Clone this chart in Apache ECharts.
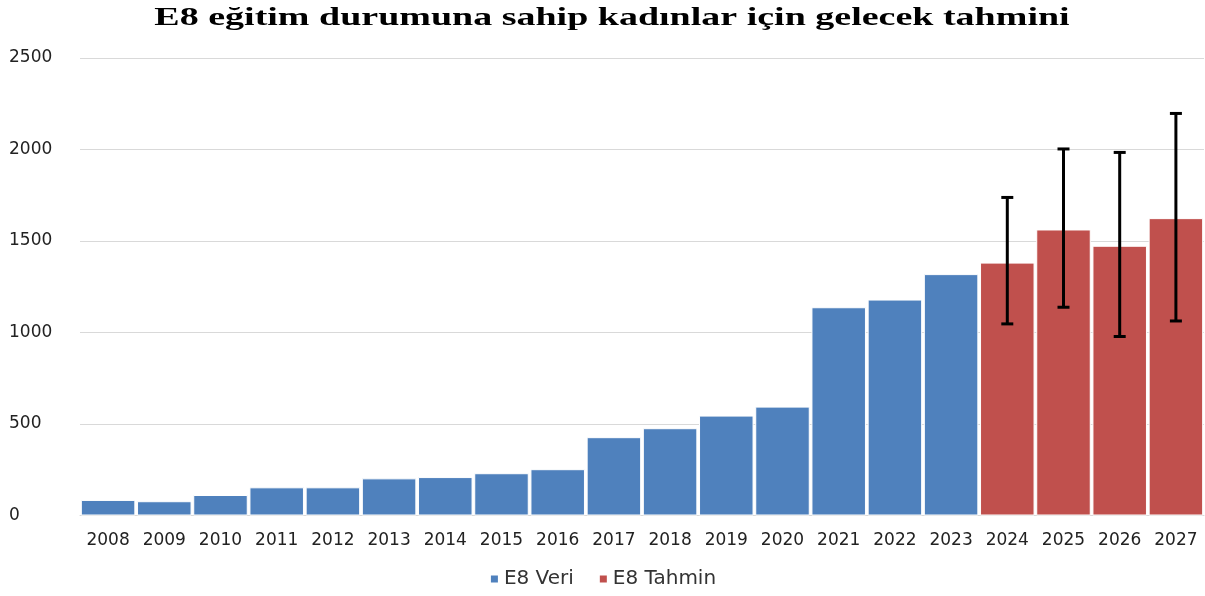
<!DOCTYPE html>
<html>
<head>
<meta charset="utf-8">
<script src="https://cdn.jsdelivr.net/npm/echarts@6/dist/echarts.min.js"></script>
<style>
  html, body { margin: 0; padding: 0; background: #fff; }
  #main { width: 1205px; height: 596px; }
</style>
</head>
<body>
<div id="main"></div>
<script>
var years = ['2008','2009','2010','2011','2012','2013','2014','2015','2016','2017',
             '2018','2019','2020','2021','2022','2023','2024','2025','2026','2027'];
var veri = [85, 78, 112, 154, 154, 203, 210, 231, 253, 428,
            477, 546, 595, 1138, 1180, 1319, '-', '-', '-', '-'];
var tahmin = ['-','-','-','-','-','-','-','-','-','-',
              '-','-','-','-','-','-', 1382, 1563, 1474, 1625];
var errLow = [1047, 1138, 978, 1063];
var errHigh = [1738, 2003, 1984, 2197];
var errYears = ['2024','2025','2026','2027'];

var errData = [];
for (var i = 0; i < errYears.length; i++) {
    errData.push([errYears[i], errLow[i], errHigh[i]]);
}

var myChart = echarts.init(document.getElementById('main'));

var option = {
    animation: false,
    // title is stretched horizontally like in the original picture
    graphic: [{
        type: 'text',
        x: 612,
        y: 6,
        scaleX: 1.52,
        style: {
            text: 'E8 eğitim durumuna sahip kadınlar için gelecek tahmini',
            font: 'bold 25px "Liberation Serif"',
            fill: '#000',
            align: 'center',
            verticalAlign: 'top'
        }
    }],
    legend: {
        bottom: 2,
        left: 'center',
        itemWidth: 9,
        itemHeight: 9,
        itemGap: 24,
        icon: 'rect',
        data: ['E8 Veri', 'E8 Tahmin'],
        textStyle: { fontFamily: 'DejaVu Sans', fontSize: 20, color: '#333' }
    },
    grid: { left: 80, right: 1, top: 58, bottom: 80.5 },
    xAxis: {
        type: 'category',
        data: years,
        axisTick: { show: false },
        axisLine: { lineStyle: { color: '#d9d9d9' } },
        axisLabel: { interval: 0, fontFamily: 'DejaVu Sans', fontSize: 17, color: '#222', margin: 17 }
    },
    yAxis: {
        type: 'value',
        min: 0,
        max: 2500,
        interval: 500,
        axisLabel: {
            fontFamily: 'DejaVu Sans', fontSize: 17, color: '#222', align: 'left', margin: 71,
            formatter: function (v) { return String(v); }
        },
        splitLine: { lineStyle: { color: '#d9d9d9', width: 1 } }
    },
    series: [
        {
            name: 'E8 Veri',
            type: 'bar',
            data: veri,
            barGap: '-100%',
            barCategoryGap: '3%',
            itemStyle: { color: '#4f81bd', borderColor: '#fff', borderWidth: 1 }
        },
        {
            name: 'E8 Tahmin',
            type: 'bar',
            data: tahmin,
            barCategoryGap: '3%',
            itemStyle: { color: '#c0504d', borderColor: '#fff', borderWidth: 1 }
        },
        {
            name: 'hata',
            type: 'custom',
            data: errData,
            z: 10,
            renderItem: function (params, api) {
                var lo = api.coord([api.value(0), api.value(1)]);
                var hi = api.coord([api.value(0), api.value(2)]);
                var w = 6;
                var st = { stroke: '#000', lineWidth: 3 };
                return {
                    type: 'group',
                    children: [
                        { type: 'line', shape: { x1: hi[0], y1: hi[1], x2: lo[0], y2: lo[1] }, style: st },
                        { type: 'line', shape: { x1: hi[0] - w, y1: hi[1], x2: hi[0] + w, y2: hi[1] }, style: st },
                        { type: 'line', shape: { x1: lo[0] - w, y1: lo[1], x2: lo[0] + w, y2: lo[1] }, style: st }
                    ]
                };
            }
        }
    ]
};
myChart.setOption(option);
</script>
</body>
</html>
